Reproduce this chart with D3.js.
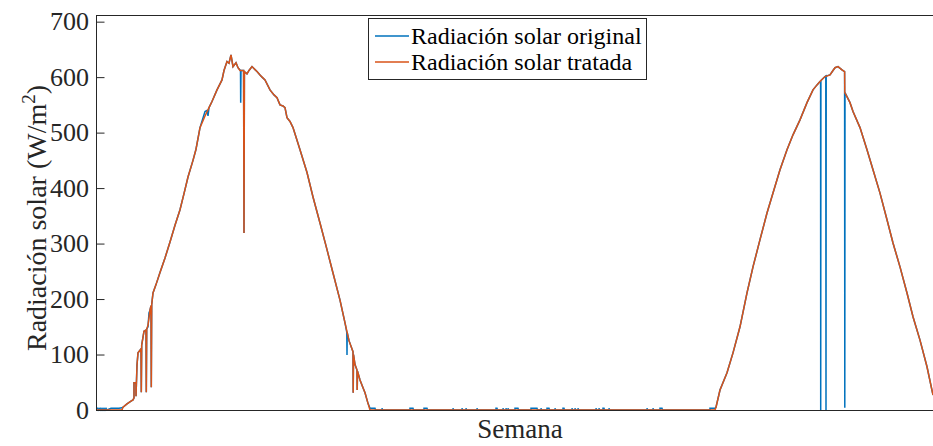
<!DOCTYPE html>
<html>
<head>
<meta charset="utf-8">
<script src="https://cdn.jsdelivr.net/npm/d3@7"></script>
<style>
  body { margin: 0; background: #fff; }
  svg { font-family: "Liberation Serif", "Times New Roman", serif; }
</style>
</head>
<body>
<script>
// Radiación solar (W/m2) vs muestra; [muestra, valor]
const tratada = [
  [0,0],[26,0],[27,5],[31,11],[35,16],[37,18],[38,22],[38,49],[40,49],[40,25],[41,81],[42,103],
  [45,110],[45.3,32],[45.7,117],[48,142],[50,144],[50.3,32],[50.7,146],[52,153],[53,166],[54,180],
  [55,188],[55.3,41],[55.7,190],[57,211],[60,226],[64,248],[69,274],[74,303],[79,333],[84,361],
  [88,390],[92,420],[97,450],[100,470],[104,509],[109,530],[113,545],[116,556],[121,577],[126,595],
  [128,612],[131,628],[133,625],[135,640],[137,619],[140,626],[142,617],[144,612],[147.6,612],
  [148,319],[148.4,610],[151,606],[153,612],[156,619],[161,610],[164,604],[169,595],[174,577],
  [178,568],[181,563],[184,550],[187,548],[189,545],[191,527],[194,520],[197,509],[204,469],
  [211,428],[217,384],[224,337],[231,289],[237,247],[244,198],[249,157],[253,125],[256,110],
  [257,105],[257.2,31],[257.5,100],[259,82],[261,72],[261.2,36],[261.5,70],[264,54],[267,40],
  [269,31],[272,12],[274,0],
  [619,0],[620,5],[624,36],[631,67],[637,103],[644,150],[651,211],[657,258],[664,307],[671,355],
  [677,391],[684,433],[691,469],[697,496],[704,523],[711,554],[717,577],[721,586],[724,592],
  [729,601],[734,604],[737,612],[739,617],[742,619],[746,613],[748.6,610],[748.8,572],[754,554],
  [757,538],[764,509],[771,469],[777,433],[784,391],[791,343],[797,301],[804,258],[811,211],
  [817,168],[824,126],[831,78],[837,27]
];

const original = [
  [0,3],[2,3],[2.4,0],[4,3],[5,0],[6,3],[7,0],[8,3],[9,0],[10,3],[11,0],[15,3],[23,3],[26,4],
  [27,5],[31,11],[35,16],[37,18],[38,22],[38,49],[40,49],[40,25],[41,81],[42,103],
  [45,110],[45.3,32],[45.7,117],[48,142],[50,144],[50.3,32],[50.7,146],[52,150],[53,175],[54,180],
  [55,188],[55.3,41],[55.7,190],[57,211],[60,226],[64,248],[69,274],[74,303],[79,333],[84,361],
  [88,390],[92,420],[97,450],[100,470],[104,509],[109,538],[111,540],[112,530],[113,545],[116,556],
  [121,577],[126,595],[128,612],[131,628],[133,625],[135,640],[137,619],[140,626],[142,617],
  [144.5,612],[144.7,554],[145,612],[147.6,612],[148,319],[148.4,610],[151,606],[153,612],
  [156,619],[161,610],[164,604],[166,600],[169,595],[174,577],[178,568],[181,563],[184,550],
  [187,548],[189,545],[191,527],[194,520],[197,509],[204,469],[211,428],[217,384],[224,337],
  [231,289],[237,247],[244,198],[249,157],[250.8,140],[251,99],[251.2,140],[253,125],[256,110],
  [257,105],[257.2,31],[257.5,100],[259,82],[261,72],[261.2,36],[261.5,70],[264,54],[267,40],
  [269,31],[272,12],[274,3],[279,3],[279.5,0],[286,0],[286,3],[286.5,0],[314,0],[314,3],[317,3],
  [317.5,0],[328,0],[328,3],[331,3],[331.5,0],[357,0],[357,3],[357.5,0],[366,0],[366,3],[366.5,0],
  [370,0],[370,3],[370.5,0],[381,0],[381,3],[381.5,0],[400,0],[400,3],[401,3],[401.5,0],[407,0],
  [407,3],[407.5,0],[410,0],[410,3],[410.5,0],[412,0],[412,3],[412.5,0],[419,0],[419,3],[422,3],
  [422.5,0],[435,0],[435,3],[441,3],[441.5,0],[445,0],[445,3],[445.5,0],[451,0],[451,3],[453,3],
  [453.5,0],[459,0],[459,3],[459.5,0],[467,0],[467,3],[468,3],[468.5,0],[476,0],[476,3],[476.5,0],
  [479,0],[479,3],[479.5,0],[482,0],[482,3],[482.5,0],[500,0],[500,3],[500.5,0],[503,0],[503,3],
  [503.5,0],[507,0],[507,3],[508,3],[508.5,0],[513,0],[513,3],[513.5,0],[551,0],[551,3],[551.5,0],
  [557,0],[557,3],[557.5,0],[564,0],[564,3],[566,3],[566.5,0],[614,0],[614,3],[619,3],
  [620,5],[624,36],[631,67],[637,103],[644,150],[651,211],[657,258],[664,307],[671,355],
  [677,391],[684,433],[691,469],[697,496],[704,523],[711,554],[717,577],[721,586],[724,592],
  [724.6,592],[724.7,0],[724.9,594],[729,601],[729.8,602],[730,0],[730.2,602],[734,604],
  [737,612],[739,617],[742,619],[746,613],[748.6,610],[748.8,4],[749,572],[754,554],
  [757,538],[764,509],[771,469],[777,433],[784,391],[791,343],[797,301],[804,258],[811,211],
  [817,168],[824,126],[831,78],[837,27]
];

const yTicks = [0, 100, 200, 300, 400, 500, 600, 700];
const series = [
  { name: "Radiación solar original", color: "#0072BD", data: original },
  { name: "Radiación solar tratada", color: "#D95319", data: tratada }
];

const width = 933, height = 446;
const margin = { left: 96, right: 934, top: 15, bottom: 410 };

const svg = d3.select("body").append("svg")
  .attr("width", width)
  .attr("height", height);

const x = d3.scaleLinear().domain([0, 838]).range([margin.left, margin.right]);
const y = d3.scaleLinear().domain([0, 712]).range([margin.bottom, margin.top]);

svg.append("clipPath").attr("id", "clip")
  .append("rect")
  .attr("x", margin.left).attr("y", margin.top - 2)
  .attr("width", margin.right - margin.left).attr("height", margin.bottom - margin.top + 4);

const line = d3.line()
  .x(d => x(d[0]))
  .y(d => y(d[1]));

const plot = svg.append("g").attr("clip-path", "url(#clip)");
series.forEach(s => {
  plot.append("path")
    .datum(s.data)
    .attr("fill", "none")
    .attr("stroke", s.color)
    .attr("stroke-width", 1.5)
    .attr("stroke-linejoin", "miter")
    .attr("d", line);
});

// box
svg.append("rect")
  .attr("x", margin.left + 0.5).attr("y", margin.top + 0.5)
  .attr("width", margin.right - margin.left).attr("height", margin.bottom - margin.top)
  .attr("fill", "none").attr("stroke", "#262626").attr("stroke-width", 1);

// y axis, ticks inside
const yAxis = d3.axisRight(y).tickValues(yTicks).tickSize(8).tickFormat("");
svg.append("g")
  .attr("transform", `translate(${margin.left + 0.5},0)`)
  .call(yAxis)
  .call(g => g.select(".domain").remove())
  .call(g => g.selectAll("line").attr("stroke", "#262626"));

svg.append("g").selectAll("text")
  .data(yTicks).join("text")
  .attr("x", 89)
  .attr("y", d => y(d))
  .attr("dy", "0.34em")
  .attr("text-anchor", "end")
  .attr("font-size", 26)
  .attr("fill", "#262626")
  .text(d => d);

// axis labels
const yl = svg.append("text")
  .attr("transform", "translate(46,218) rotate(-90)")
  .attr("text-anchor", "middle")
  .attr("font-size", 28)
  .attr("fill", "#262626");
yl.append("tspan").text("Radiación solar (W/m");
yl.append("tspan").attr("dy", -11).attr("font-size", 19).text("2");
yl.append("tspan").attr("dy", 11).text(")");

svg.append("text")
  .attr("x", 520).attr("y", 438)
  .attr("text-anchor", "middle")
  .attr("font-size", 27)
  .attr("fill", "#262626")
  .text("Semana");

// legend
const legend = svg.append("g");
legend.append("rect")
  .attr("x", 368.5).attr("y", 18.5).attr("width", 278).attr("height", 61)
  .attr("fill", "#fff").attr("stroke", "#262626").attr("stroke-width", 1);
series.forEach((s, i) => {
  const ly = 36 + i * 26;
  legend.append("line")
    .attr("x1", 375).attr("x2", 409).attr("y1", ly).attr("y2", ly)
    .attr("stroke", s.color).attr("stroke-width", 1.5);
  legend.append("text")
    .attr("x", 411).attr("y", ly).attr("dy", "0.34em")
    .attr("font-size", 24).attr("fill", "#000")
    .text(s.name);
});
</script>
</body>
</html>
